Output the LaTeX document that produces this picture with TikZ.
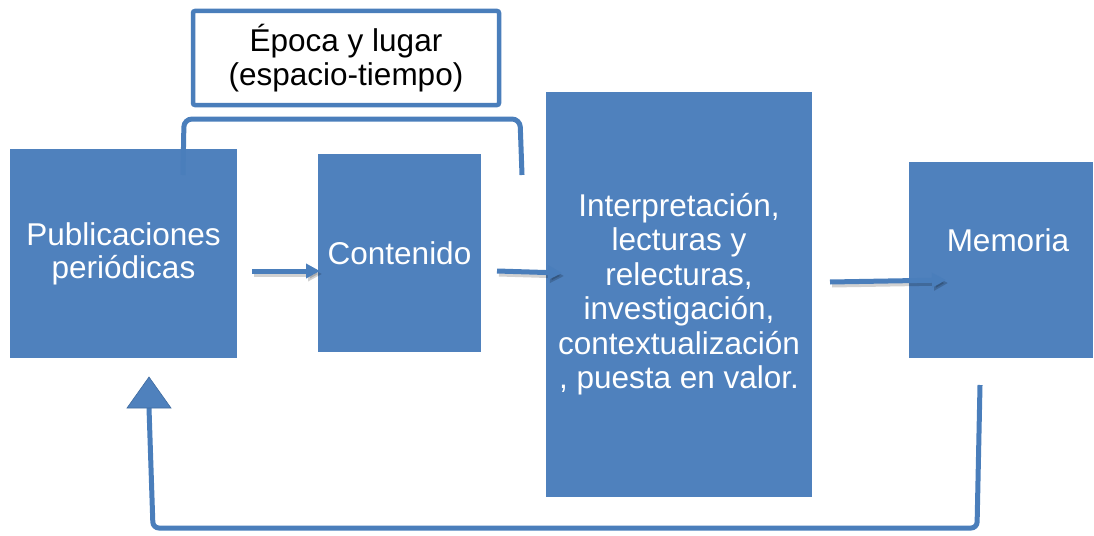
\documentclass[tikz,border=0pt]{standalone}
\usepackage{fontspec}
\setmainfont{Liberation Sans}
\usetikzlibrary{arrows.meta}
\definecolor{boxblue}{HTML}{4F81BD}
\definecolor{lineblue}{HTML}{4A7EBB}
\tikzset{
  bluebox/.style={fill=boxblue, draw=none, text=white, align=center, inner sep=0pt,
    font=\fontsize{31.5}{33}\selectfont},
  conn/.style={draw=lineblue, line width=5pt, -{Triangle[length=14pt,width=14pt]}},
  connshadow/.style={draw=black, opacity=0.18, line width=5pt, -{Triangle[length=14pt,width=14pt]}, transform canvas={shift={(2pt,-3pt)}}},
}
\begin{document}
\begin{tikzpicture}[x=1pt,y=-1pt]
\useasboundingbox (0,0) rectangle (1094,535);
% boxes
\node[bluebox, minimum width=227pt, minimum height=209pt] (pub) at (123.5,253.5) {Publicaciones\\periódicas};
\node[bluebox, minimum width=163pt, minimum height=198pt] (con) at (399.5,253) {Contenido};
\node[bluebox, minimum width=266pt, minimum height=405pt] (int) at (679,294.5) {};
\node[text=white, align=center, font=\fontsize{31.5}{34.5}\selectfont] (intt) at (679,294) {Interpretación,\\lecturas y\\relecturas,\\investigación,\\contextualización\\, puesta en valor.};
\node[bluebox, minimum width=184pt, minimum height=196pt] (mem) at (1001,260) {};
\node[text=white, font=\fontsize{31.5}{33}\selectfont] (memt) at (1008,240) {Memoria};
% top box
\node[draw=lineblue, line width=4.5pt, fill=white, rounded corners=2pt, minimum width=306pt, minimum height=94pt, align=center, font=\fontsize{31.5}{34}\selectfont] (epoca) at (346,58) {Época y lugar\\(espacio-tiempo)};
% bracket
\coordinate (bl) at (183,175);
\coordinate (br) at (522,175);
\draw[lineblue, line width=5pt, rounded corners=8pt] (bl) -- (184,119) -- (520,119) -- (br);
% arrows
\coordinate (a1s) at (252,271);
\coordinate (a1e) at (320,271);
\coordinate (a2s) at (497,271);
\coordinate (a2e) at (562,273);
\coordinate (a3s) at (830,282);
\coordinate (a3e) at (946,280);
\draw[connshadow] (a1s) -- (a1e);
\draw[connshadow] (a2s) -- (a2e);
\draw[connshadow] (a3s) -- (a3e);
\draw[conn] (a1s) -- (a1e);
\draw[conn] (a2s) -- (a2e);
\draw[conn] (a3s) -- (a3e);
% feedback loop
\coordinate (fs) at (980,385);
\coordinate (fe) at (149,408);
\draw[lineblue, line width=5pt, rounded corners=6pt] (fs) -- (977,528) -- (153,528) -- (fe);
\fill[boxblue, draw=lineblue!85!black, line width=0.6pt] (127,408) -- (149,377) -- (171,408) -- cycle;
\end{tikzpicture}
\end{document}
